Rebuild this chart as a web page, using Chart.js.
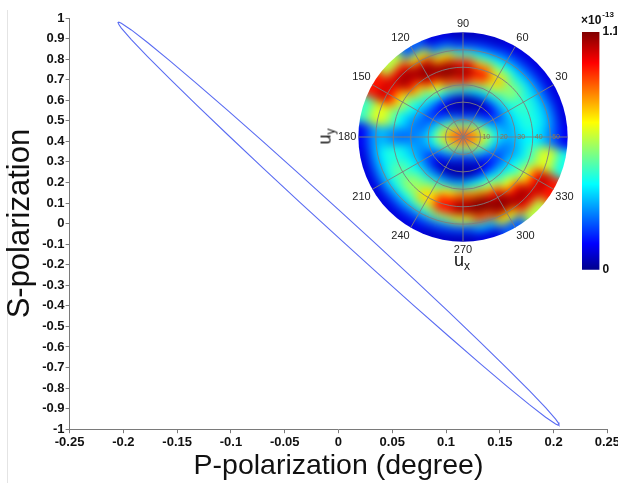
<!DOCTYPE HTML><html>
<head>
  <meta charset="utf-8">
  <title>Polarization ellipse</title>
  <script src="https://cdn.jsdelivr.net/npm/chart.js"></script>
  <style>
  html, body {
    margin: 0;
    padding: 0;
    background: #fff;
  }
  body {
    width: 618px;
    height: 483px;
    position: relative;
    overflow: hidden;
    font-family: Arial, "Liberation Sans", sans-serif;
  }
  canvas { position: absolute; }
  #main { left: 0; top: 0; }
  #polar { left: 332px; top: 12px; }
  #cbar { left: 575px; top: 4px; }
  .edge {
    position: absolute;
    left: 7px; top: 10px;
    width: 1px; height: 473px;
    background: #e4e4e4;
  }
  .ulab {
    position: absolute;
    font-size: 18px;
    color: #111;
    line-height: 1;
  }
  .ulab sub { font-size: 12px; vertical-align: -4px; }
  #uy { left: 318px; top: 126px; transform: rotate(-90deg); }
  #ux { left: 454px; top: 251px; }
  </style>
<script>
  // main plot: polarization ellipse
  var ellipseX = [0.2050, 0.2042, 0.2019, 0.1926, 0.1775, 0.1570, 0.1318, 0.1025, 0.0701, 0.0356, 0.0000,
                  -0.0356, -0.0701, -0.1025, -0.1318, -0.1570, -0.1775, -0.1926, -0.2019, -0.2042, -0.2050,
                  -0.2042, -0.2019, -0.1926, -0.1775, -0.1570, -0.1318, -0.1025, -0.0701, -0.0356, 0.0000,
                  0.0356, 0.0701, 0.1025, 0.1318, 0.1570, 0.1775, 0.1926, 0.2019, 0.2042, 0.2050];
  var ellipseY = [-0.9776, -0.9799, -0.9746, -0.9420, -0.8808, -0.7928, -0.6808, -0.5480, -0.3986, -0.2371, -0.0684,
                  0.1024, 0.2701, 0.4296, 0.5760, 0.7049, 0.8125, 0.8953, 0.9509, 0.9679, 0.9776,
                  0.9799, 0.9746, 0.9420, 0.8808, 0.7928, 0.6808, 0.5480, 0.3986, 0.2371, 0.0684,
                  -0.1024, -0.2701, -0.4296, -0.5760, -0.7049, -0.8125, -0.8953, -0.9509, -0.9679, -0.9776];

  var xTicks = [-0.25, -0.2, -0.15, -0.1, -0.05, 0, 0.05, 0.1, 0.15, 0.2, 0.25];
  var yTicks = [-1, -0.9, -0.8, -0.7, -0.6, -0.5, -0.4, -0.3, -0.2, -0.1, 0,
                0.1, 0.2, 0.3, 0.4, 0.5, 0.6, 0.7, 0.8, 0.9, 1];

  // inset: polar map, labels clockwise from the top
  var angleLabels = ['90', '60', '30', '0', '330', '300', '270', '240', '210', '180', '150', '120'];
  var radialTicks = [10, 20, 30, 40, 50];
  var heatAngles = [0, 15, 30, 45, 60, 75, 90, 105, 120, 135, 150, 165,
                    180, 195, 210, 225, 240, 255, 270, 285, 300, 315, 330, 345];
  var heatRadii = [2.5, 7.5, 12.5, 17.5, 22.5, 27.5, 32.5, 37.5, 42.5, 47.5, 52.5, 57.5];
  // fraction of full colour scale (1.1e-13), one row per angle
  var heatFraction = [
    [0.84, 0.74, 0.60, 0.42, 0.32, 0.28, 0.32, 0.36, 0.35, 0.28, 0.20, 0.10],
    [0.84, 0.72, 0.54, 0.35, 0.26, 0.28, 0.35, 0.40, 0.38, 0.32, 0.22, 0.08],
    [0.82, 0.65, 0.42, 0.22, 0.17, 0.28, 0.38, 0.42, 0.40, 0.32, 0.20, 0.08],
    [0.82, 0.58, 0.30, 0.10, 0.10, 0.30, 0.45, 0.52, 0.45, 0.33, 0.20, 0.08],
    [0.80, 0.52, 0.22, 0.05, 0.06, 0.32, 0.55, 0.68, 0.55, 0.35, 0.20, 0.08],
    [0.80, 0.48, 0.16, 0.02, 0.04, 0.35, 0.72, 0.88, 0.70, 0.38, 0.18, 0.06],
    [0.80, 0.46, 0.14, 0.02, 0.05, 0.42, 0.85, 0.98, 0.85, 0.45, 0.18, 0.05],
    [0.80, 0.48, 0.16, 0.02, 0.07, 0.42, 0.80, 1.00, 0.95, 0.65, 0.25, 0.08],
    [0.80, 0.52, 0.22, 0.05, 0.12, 0.38, 0.62, 0.90, 1.00, 0.92, 0.60, 0.20],
    [0.82, 0.60, 0.33, 0.12, 0.14, 0.32, 0.45, 0.68, 0.90, 0.98, 0.88, 0.55],
    [0.82, 0.68, 0.45, 0.24, 0.16, 0.26, 0.36, 0.48, 0.65, 0.85, 0.92, 0.85],
    [0.84, 0.72, 0.54, 0.34, 0.22, 0.22, 0.28, 0.36, 0.48, 0.60, 0.58, 0.42],
    [0.84, 0.74, 0.58, 0.40, 0.28, 0.24, 0.22, 0.22, 0.26, 0.30, 0.24, 0.10],
    [0.84, 0.72, 0.54, 0.35, 0.25, 0.26, 0.32, 0.38, 0.40, 0.35, 0.24, 0.08],
    [0.82, 0.65, 0.42, 0.22, 0.16, 0.26, 0.36, 0.44, 0.46, 0.38, 0.24, 0.08],
    [0.82, 0.58, 0.30, 0.10, 0.08, 0.26, 0.42, 0.52, 0.52, 0.38, 0.22, 0.08],
    [0.80, 0.52, 0.22, 0.05, 0.05, 0.28, 0.48, 0.65, 0.66, 0.42, 0.20, 0.08],
    [0.80, 0.48, 0.16, 0.02, 0.04, 0.28, 0.62, 0.85, 0.85, 0.50, 0.20, 0.06],
    [0.80, 0.46, 0.14, 0.02, 0.04, 0.32, 0.72, 0.95, 0.95, 0.58, 0.20, 0.05],
    [0.80, 0.48, 0.16, 0.02, 0.06, 0.36, 0.70, 0.98, 1.00, 0.78, 0.30, 0.08],
    [0.80, 0.52, 0.22, 0.05, 0.10, 0.36, 0.58, 0.88, 1.00, 0.95, 0.62, 0.20],
    [0.82, 0.60, 0.33, 0.12, 0.13, 0.30, 0.44, 0.62, 0.88, 0.98, 0.88, 0.55],
    [0.82, 0.68, 0.45, 0.24, 0.16, 0.26, 0.36, 0.46, 0.63, 0.85, 0.94, 0.85],
    [0.84, 0.72, 0.54, 0.34, 0.23, 0.24, 0.30, 0.38, 0.48, 0.60, 0.56, 0.38]
  ];

  // colour bar
  var colorbarRange = [0, 1.1];
  var colorbarTicks = [0, 1.1];

  // jet colour map stops [position, r, g, b]
  var jetStops = [[0, 0, 0, 140], [0.11, 0, 0, 255], [0.36, 0, 255, 255],
                  [0.62, 255, 255, 0], [0.87, 255, 0, 0], [1, 128, 0, 0]];

  function jet(f) {
    f = Math.max(0, Math.min(1, f));
    for (var i = 1; i < jetStops.length; i++) {
      if (f <= jetStops[i][0]) {
        var a = jetStops[i - 1], b = jetStops[i];
        var k = (f - a[0]) / (b[0] - a[0]);
        return 'rgb(' + Math.round(a[1] + (b[1] - a[1]) * k) + ',' +
          Math.round(a[2] + (b[2] - a[2]) * k) + ',' +
          Math.round(a[3] + (b[3] - a[3]) * k) + ')';
      }
    }
    return 'rgb(128,0,0)';
  }

  var tickFont = {family: 'Arial', size: 13, weight: 'bold'};

  function makeMain() {
    var pts = ellipseX.map(function (x, i) { return {x: x, y: ellipseY[i]}; });
    new Chart(document.getElementById('main'), {
      type: 'scatter',
      data: {datasets: [{
        data: pts,
        showLine: true,
        borderColor: '#5a6cf2',
        borderWidth: 1.1,
        pointRadius: 0,
        tension: 0
      }]},
      options: {
        responsive: false,
        animation: false,
        layout: {padding: {left: 0, right: 0, top: 18, bottom: 0}},
        plugins: {legend: {display: false}, tooltip: {enabled: false}},
        scales: {
          x: {
            type: 'linear', min: -0.25, max: 0.25,
            afterBuildTicks: function (s) { s.ticks = xTicks.map(function (v) { return {value: v}; }); },
            ticks: {font: tickFont, color: '#111', padding: 1, maxRotation: 0, autoSkip: false,
                    callback: function (v) { return String(v); }},
            grid: {drawOnChartArea: false, tickLength: 4, color: '#7a7a7a'},
            border: {color: '#7a7a7a'},
            title: {display: true, text: 'P-polarization (degree)', color: '#111',
                    font: {family: 'Arial', size: 28.5}, padding: {top: -2, bottom: 0}}
          },
          y: {
            type: 'linear', min: -1, max: 1,
            afterBuildTicks: function (s) { s.ticks = yTicks.map(function (v) { return {value: v}; }); },
            ticks: {font: tickFont, color: '#111', padding: 1, autoSkip: false,
                    callback: function (v) { return String(v); }},
            grid: {drawOnChartArea: false, tickLength: 4, color: '#7a7a7a'},
            border: {color: '#7a7a7a'},
            title: {display: true, text: 'S-polarization', color: '#111',
                    font: {family: 'Arial', size: 31}, padding: {top: 2, bottom: 2}}
          }
        }
      }
    });
  }

  var heatPlugin = {
    id: 'heat',
    beforeDraw: function (chart) {
      var s = chart.scales.r, ctx = chart.ctx;
      var off = document.createElement('canvas');
      off.width = chart.width; off.height = chart.height;
      var o = off.getContext('2d');
      var half = 7.5 + 0.6;
      function ang(deg) { return s.getIndexAngle((90 - deg) / 30) - Math.PI / 2; }
      for (var i = 0; i < heatAngles.length; i++) {
        for (var j = 0; j < heatRadii.length; j++) {
          var r0 = s.getDistanceFromCenterForValue(Math.max(0, heatRadii[j] - 2.5));
          var r1 = s.getDistanceFromCenterForValue(heatRadii[j] + 2.5) + (j === heatRadii.length - 1 ? 10 : 0.6);
          o.fillStyle = jet(heatFraction[i][j]);
          o.beginPath();
          o.arc(s.xCenter, s.yCenter, r1, ang(heatAngles[i] + half), ang(heatAngles[i] - half), false);
          o.arc(s.xCenter, s.yCenter, r0, ang(heatAngles[i] - half), ang(heatAngles[i] + half), true);
          o.closePath();
          o.fill();
        }
      }
      ctx.save();
      ctx.beginPath();
      ctx.arc(s.xCenter, s.yCenter, s.getDistanceFromCenterForValue(60), 0, Math.PI * 2);
      ctx.clip();
      ctx.filter = 'blur(5px)';
      ctx.drawImage(off, 0, 0);
      ctx.restore();
    },
    afterDraw: function (chart) {
      var s = chart.scales.r, ctx = chart.ctx;
      ctx.save();
      ctx.font = '7px Arial';
      ctx.fillStyle = '#8d7553';
      ctx.textAlign = 'left';
      ctx.textBaseline = 'middle';
      radialTicks.forEach(function (v) {
        var p = s.getPointPositionForValue(3, v);
        ctx.fillText(String(v), p.x + 2, p.y);
      });
      ctx.restore();
    }
  };

  function makePolar() {
    var gridGray = 'rgba(125,125,125,0.9)';
    new Chart(document.getElementById('polar'), {
      type: 'radar',
      data: {labels: angleLabels, datasets: [{data: [], pointRadius: 0, borderWidth: 0}]},
      plugins: [heatPlugin],
      options: {
        responsive: false,
        animation: false,
        layout: {padding: 0},
        plugins: {legend: {display: false}, tooltip: {enabled: false}},
        scales: {
          r: {
            min: 0, max: 60,
            ticks: {stepSize: 10, display: false},
            grid: {circular: true, lineWidth: 1,
                   color: function (c) { return c.tick && c.tick.value === 60 ? 'rgba(0,0,0,0)' : gridGray; }},
            angleLines: {color: gridGray, lineWidth: 1},
            pointLabels: {font: {family: 'Arial', size: 11}, padding: 2,
                          color: function (c) { return c.index === 3 ? 'rgba(0,0,0,0)' : '#222'; }}
          }
        }
      }
    });
  }

  var cbarTitle = {
    id: 'cbarTitle',
    afterDraw: function (chart) {
      var ctx = chart.ctx, a = chart.chartArea;
      ctx.save();
      ctx.fillStyle = '#111';
      ctx.textBaseline = 'alphabetic';
      ctx.font = 'bold 12px Arial';
      ctx.fillText('\u00d710', a.left - 1, 20);
      var w = ctx.measureText('\u00d710').width;
      ctx.font = 'bold 8px Arial';
      ctx.fillText('-13', a.left - 1 + w + 1, 13);
      ctx.restore();
    }
  };

  function makeColorbar() {
    new Chart(document.getElementById('cbar'), {
      type: 'bar',
      data: {labels: [''], datasets: [{
        data: [colorbarRange],
        barPercentage: 1,
        categoryPercentage: 1,
        borderWidth: 0,
        backgroundColor: function (c) {
          var area = c.chart.chartArea;
          if (!area) return '#00f';
          var y = c.chart.scales.y;
          var p0 = y.getPixelForValue(colorbarRange[0]), p1 = y.getPixelForValue(colorbarRange[1]);
          if (!isFinite(p0) || !isFinite(p1)) return '#00f';
          var g = c.chart.ctx.createLinearGradient(0, p0, 0, p1);
          jetStops.forEach(function (st) { g.addColorStop(st[0], 'rgb(' + st[1] + ',' + st[2] + ',' + st[3] + ')'); });
          return g;
        }
      }]},
      plugins: [cbarTitle],
      options: {
        responsive: false,
        animation: false,
        layout: {padding: {left: 7, top: 28, bottom: 6, right: 0}},
        plugins: {legend: {display: false}, tooltip: {enabled: false}},
        scales: {
          x: {display: false},
          y: {
            position: 'right', min: colorbarRange[0], max: colorbarRange[1],
            afterBuildTicks: function (s) { s.ticks = colorbarTicks.map(function (v) { return {value: v}; }); },
            ticks: {font: {family: 'Arial', size: 12, weight: 'bold'}, color: '#111', padding: 3,
                    autoSkip: false,
                    callback: function (v) { return String(v); }},
            grid: {display: false, drawTicks: false, tickLength: 0},
            border: {display: false}
          }
        }
      }
    });
  }

  window.addEventListener('load', function () {
    makeMain();
    makePolar();
    makeColorbar();
  });
</script>
</head>
<body>
  <div class="edge"></div>
  <canvas id="main" width="621" height="483"></canvas>
  <canvas id="polar" width="250" height="250"></canvas>
  <canvas id="cbar" width="42" height="276"></canvas>
  <div class="ulab" id="uy">u<sub>y</sub></div>
  <div class="ulab" id="ux">u<sub>x</sub></div>
</body>
</html>
